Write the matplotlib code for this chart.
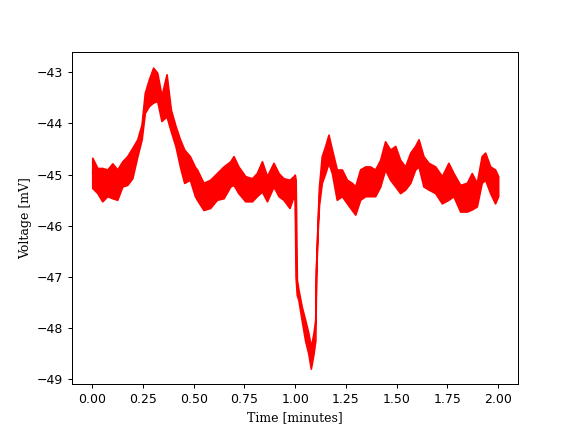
import numpy as np
import matplotlib.pyplot as plt

# envelope of the noisy trace (minutes, mV)
t = [0.000, 0.025, 0.049, 0.074, 0.099, 0.123, 0.148, 0.172, 0.197, 0.222,
     0.243, 0.259, 0.279, 0.300, 0.320, 0.341, 0.366, 0.387, 0.410, 0.432,
     0.453, 0.481, 0.506, 0.516, 0.548, 0.581, 0.614, 0.647, 0.680, 0.696,
     0.720, 0.754, 0.787, 0.811, 0.836, 0.861, 0.893, 0.918, 0.942, 0.972,
     0.992, 0.998, 1.002, 1.008, 1.016, 1.032, 1.049, 1.065, 1.077, 1.090,
     1.099, 1.103, 1.110, 1.117, 1.131, 1.148, 1.164, 1.181, 1.205, 1.230,
     1.255, 1.279, 1.296, 1.320, 1.345, 1.369, 1.394, 1.419, 1.443, 1.468,
     1.493, 1.517, 1.542, 1.567, 1.591, 1.608, 1.632, 1.657, 1.690, 1.723,
     1.755, 1.780, 1.813, 1.846, 1.870, 1.895, 1.919, 1.936, 1.961, 1.985,
     2.000]
upper = [-44.67, -44.87, -44.87, -44.90, -44.78, -44.90, -44.74, -44.64,
         -44.48, -44.31, -44.02, -43.40, -43.14, -42.91, -43.01, -43.46,
         -43.04, -43.73, -44.05, -44.31, -44.51, -44.64, -44.85, -44.90,
         -45.16, -45.10, -44.97, -44.84, -44.74, -44.64, -44.84, -45.03,
         -45.07, -44.97, -44.74, -45.03, -44.77, -44.97, -45.07, -45.10,
         -45.03, -45.00, -45.10, -47.05, -47.25, -47.58, -47.84, -48.10,
         -48.37, -48.10, -47.84, -46.80, -46.01, -45.25, -44.64, -44.44,
         -44.22, -44.51, -44.90, -44.90, -45.10, -45.16, -45.23, -44.90,
         -44.84, -44.84, -44.90, -44.71, -44.35, -44.51, -44.44, -44.71,
         -44.84, -44.57, -44.44, -44.31, -44.64, -44.77, -44.84, -45.03,
         -44.77, -44.97, -45.20, -45.16, -44.97, -45.16, -44.64, -44.57,
         -44.84, -44.90, -45.03]
lower = [-45.26, -45.36, -45.52, -45.42, -45.46, -45.49, -45.23, -45.20,
         -45.07, -44.64, -44.31, -43.79, -43.66, -43.59, -43.56, -43.95,
         -43.86, -44.15, -44.44, -44.84, -45.16, -45.10, -45.42, -45.49,
         -45.69, -45.65, -45.49, -45.46, -45.23, -45.20, -45.36, -45.52,
         -45.52, -45.42, -45.33, -45.52, -45.23, -45.42, -45.49, -45.65,
         -45.42, -45.50, -47.00, -47.35, -47.45, -47.84, -48.24, -48.50,
         -48.79, -48.50, -48.24, -46.95, -46.15, -45.60, -45.16, -44.97,
         -44.77, -44.97, -45.49, -45.42, -45.56, -45.69, -45.78, -45.49,
         -45.42, -45.42, -45.42, -45.23, -44.90, -45.10, -45.23, -45.36,
         -45.29, -45.16, -44.90, -44.84, -45.23, -45.29, -45.36, -45.56,
         -45.49, -45.42, -45.72, -45.72, -45.68, -45.62, -45.16, -45.10,
         -45.36, -45.56, -45.42]

fig, ax = plt.subplots(figsize=(6.4, 4.8), dpi=90)

ax.fill_between(t, lower, upper, color="red", lw=1.4, edgecolor="red")
mid = (np.array(upper) + np.array(lower)) / 2
ax.plot(t, mid, color="red", lw=0.8)

ax.set_xticks([0.0, 0.25, 0.5, 0.75, 1.0, 1.25, 1.5, 1.75, 2.0])
ax.set_xticklabels(["0.00", "0.25", "0.50", "0.75", "1.00", "1.25", "1.50", "1.75", "2.00"])
ax.set_yticks([-49, -48, -47, -46, -45, -44, -43])
ax.set_xlim(-0.1, 2.1)
ax.set_ylim(-49.1, -42.6)

ax.set_xlabel("Time [minutes]", family="DejaVu Serif")
ax.set_ylabel("Voltage [mV]", family="DejaVu Serif")

fig.savefig("out.png")
